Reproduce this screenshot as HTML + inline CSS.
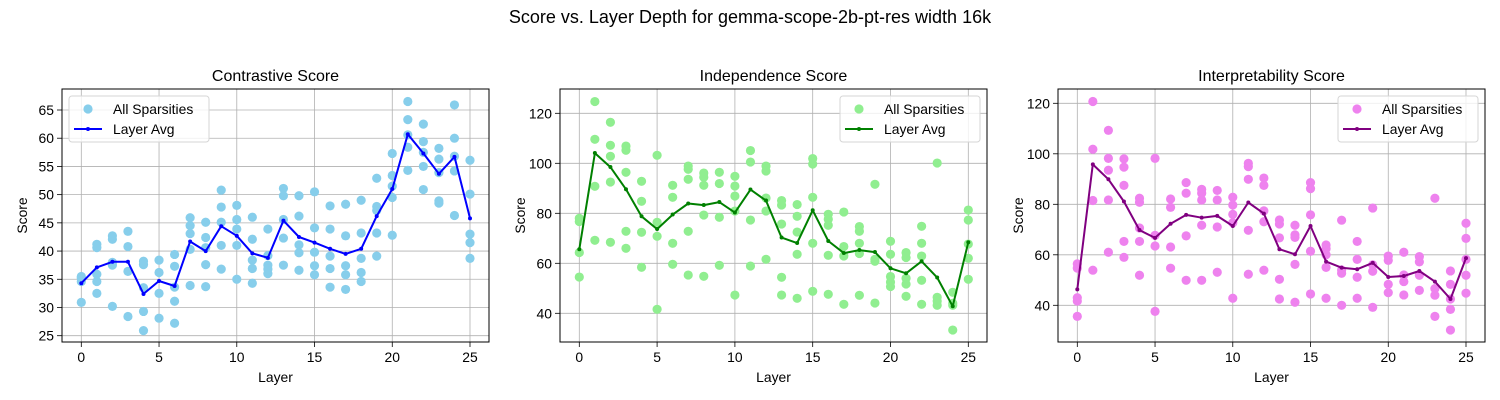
<!DOCTYPE html>
<html><head><meta charset="utf-8">
<style>
html,body{margin:0;padding:0;background:#fff;}
svg{display:block;font-family:"Liberation Sans","DejaVu Sans",sans-serif;}
</style></head>
<body>
<svg id="chart" width="1500" height="400" viewBox="0 0 1500 400" xmlns="http://www.w3.org/2000/svg">
<text x="750" y="23" text-anchor="middle" font-size="18">Score vs. Layer Depth for gemma-scope-2b-pt-res width 16k</text>
</svg>
<script>
const layers = [0,1,2,3,4,5,6,7,8,9,10,11,12,13,14,15,16,17,18,19,20,21,22,23,24,25];
const contrastivePoints = [
 [35.5,34.6,30.9,35.2],[41.2,40.6,35.9,34.6,32.5],[42.7,42.1,38.0,37.5,30.2],[43.5,40.8,36.4,28.4],
 [38.2,37.6,33.5,29.3,25.9],[38.4,36.2,32.5,28.1],[39.4,37.3,33.6,31.1,27.2],[45.9,44.5,43.1,40.3,33.9],
 [45.1,42.4,40.6,37.6,33.7],[50.8,47.8,45.1,41.0,36.8],[48.1,45.6,43.9,41.0,35.0],[46.0,42.1,38.4,36.9,34.3],
 [43.9,39.2,37.5,36.8,36.0],[51.1,49.8,45.6,42.3,37.5],[49.8,46.2,41.1,39.7,36.6],[50.5,44.1,39.8,37.4,35.8],
 [48.0,43.9,39.1,36.9,33.6],[48.3,42.7,37.4,35.8,33.2],[49.0,43.2,38.7,36.2,34.6],[52.9,47.9,47.2,43.2,39.1],
 [57.3,53.4,51.5,49.5,42.8],[66.5,63.3,60.6,58.4,54.3],[62.5,59.4,57.5,55.0,50.9],[58.2,56.3,53.9,48.9,48.5],
 [65.9,60.0,56.8,54.2,46.3],[56.1,50.1,43.0,41.5,38.7]];
const contrastiveAvg = [34.3,37.1,38.1,38.1,32.4,34.7,33.8,41.7,40.0,44.4,42.7,39.6,38.8,45.4,42.5,41.5,40.4,39.5,40.4,46.2,51.0,60.7,57.3,53.7,56.7,45.8];
const independencePoints = [
 [78,76.7,64.3,54.5],[124.7,109.6,90.8,69.2],[116.4,107.2,102.8,92.5,68.4],[106.9,105.2,96.4,72.8,66],
 [92.8,84.8,72.4,58.4],[103.2,76.4,70.8,41.6],[91.2,86.4,68,59.6],[98.9,97.6,93.6,72.8,55.3],
 [96.1,94.4,91.2,79.3,54.8],[96.4,91.9,78.4,59.2],[94.8,90.9,86.9,80.9,47.3],[105.1,100.5,77.3,58.9],
 [98.9,96.9,86.1,80.9,61.6],[85.1,83.3,75.7,54.4,47.3],[83.5,78.8,72.5,63.6,46],[101.9,99.7,86.4,68,48.8],
 [79.6,77.6,75.2,63.2,47.6],[80.5,66.7,62.9,43.6],[74.7,72.8,68,63.9,47.2],[91.6,61.6,60.8,44.1],
 [68.8,63.6,54.7,52.5,50.7],[64.3,62.3,54,51.7,46.8],[74.8,68,62.9,53.2,43.6],[100.1,46.4,44.9,43.2],
 [48.4,44,43.2,33.3],[81.3,77.3,67.7,62,53.6]];
const independenceAvg = [65.6,104.1,98.5,89.6,78.8,73.7,79.5,83.9,83.3,84.5,80.3,89.5,85.1,70.3,68.1,81.2,68.9,64.1,65.3,64.5,58,56,60.8,54.3,42.8,68.4];
const interpretabilityPoints = [
 [56.4,54.7,43,41.7,35.6],[120.7,101.8,81.5,53.9],[109.3,98.2,93.5,81.7,61],[98,94.7,87.5,65.3,59],
 [82.4,80.8,70.6,65.3,51.9],[98.2,67.7,63.5,37.6],[82.1,78.8,63.1,54.7],[88.6,84.4,67.5,49.9],
 [85.9,84.4,81.7,71.7,49.9],[85.5,81.7,71,53.1],[82.8,79.7,76,72.7,42.8],[96.2,94.9,89.9,69.7,52.3],
 [90.4,87.5,77.4,73.1,53.9],[73.8,72.2,66.7,50.3,42.5],[71.7,67.9,66.9,56.2,41.2],[88.6,86.2,75.8,61.4,44.5],
 [63.9,62.4,60,55,42.8],[73.7,54,52.7,40],[65.3,58.2,51.1,42.8],[78.5,56,53.5,39.2],
 [59.5,57.8,48.3,45],[61,52,49.4,44.1],[59.3,57.2,51.9,45.9],[82.4,46.6,44,35.6],
 [53.6,48.3,42.5,38.4,30.2],[72.5,66.5,58.2,51.9,44.8]];
const interpretabilityAvg = [46.3,95.8,89.9,81.1,69.8,66.7,72.3,75.8,74.7,75.4,71.4,80.7,76.3,62.2,60.2,71.4,57.3,54.9,54.3,56.8,51.2,51.6,53.6,49.4,42.5,58.7];
const contrastiveTicks = [25,30,35,40,45,50,55,60,65];
const independenceTicks = [40,60,80,100,120];
const interpretabilityTicks = [40,60,80,100,120];
const xTicks = [0,5,10,15,20,25];

const NS = "http://www.w3.org/2000/svg";
const svg = document.getElementById('chart');
function mk(tag, attrs, parent){
  const e = document.createElementNS(NS, tag);
  for (const k in attrs) e.setAttribute(k, attrs[k]);
  (parent||svg).appendChild(e);
  return e;
}
function panel(cfg){
  const g = mk('g', {});
  
  
  const L=cfg.left, R=cfg.left+427, T=89, B=342;
  const xs = v => cfg.x0 + (v)*(cfg.x25-cfg.x0)/25;
  const ys = v => cfg.yA + (v-cfg.vA)*(cfg.yB-cfg.yA)/(cfg.vB-cfg.vA);
  // grid
  xTicks.forEach(t=>{
    const l = mk('line',{x1:xs(t),x2:xs(t),y1:T,y2:B,stroke:'#b0b0b0','stroke-width':0.8},g);
    
    
    const tk = mk('line',{x1:xs(t),x2:xs(t),y1:B,y2:B+5,stroke:'#000','stroke-width':0.8},g);
    
    
    const tx = mk('text',{x:xs(t),y:B+20,'text-anchor':'middle','font-size':13.9,fill:'#000'},g);
    
    
    tx.textContent = t;
  });
  cfg.ticks.forEach(t=>{
    const l = mk('line',{x1:L,x2:R,y1:ys(t),y2:ys(t),stroke:'#b0b0b0','stroke-width':0.8},g);
    
    
    const tk = mk('line',{x1:L-5,x2:L,y1:ys(t),y2:ys(t),stroke:'#000','stroke-width':0.8},g);
    
    
    const tx = mk('text',{x:L-8,y:ys(t)+5,'text-anchor':'end','font-size':13.9,fill:'#000'},g);
    
    
    tx.textContent = t;
  });
  // scatter
  cfg.points.forEach((arr,i)=>{
    arr.forEach(v=>{
      const c = mk('circle',{cx:xs(layers[i]),cy:ys(v),r:4.6,fill:cfg.scol},g);
      
      
    });
  });
  // avg line
  const d = cfg.avg.map((v,i)=>(i?'L':'M')+xs(layers[i]).toFixed(1)+' '+ys(v).toFixed(1)).join(' ');
  const p = mk('path',{d:d,fill:'none',stroke:cfg.lcol,'stroke-width':2,'stroke-linejoin':'round'},g);
  
  
  cfg.avg.forEach((v,i)=>{
    const c = mk('circle',{cx:xs(layers[i]),cy:ys(v),r:2,fill:cfg.lcol},g);
    
    
  });
  // frame
  const fr = mk('rect',{x:L,y:T,width:R-L,height:B-T,fill:'none',stroke:'#000','stroke-width':1},g);
  
  
  // title & labels
  const tt = mk('text',{x:(L+R)/2,y:T-8,'text-anchor':'middle','font-size':16,fill:'#000'},g);
  
  
  tt.textContent = cfg.title;
  const xl = mk('text',{x:(L+R)/2,y:382,'text-anchor':'middle','font-size':13.9,fill:'#000'},g);
  
  
  xl.textContent = 'Layer';
  const yl = mk('text',{x:0,y:0,'text-anchor':'middle','font-size':13.9,fill:'#000',transform:`translate(${L-35},${(T+B)/2}) rotate(-90)`},g);
  
  
  yl.textContent = 'Score';
  // legend
  const lg = mk('g',{},g);
  
  
  const lx = cfg.legendX;
  const lb = mk('rect',{x:lx,y:96,width:140,height:46,rx:3,fill:'#fff','fill-opacity':0.8,stroke:'#d6d6d6','stroke-width':1},lg);
  
  
  const lc = mk('circle',{cx:lx+19,cy:109,r:4.6,fill:cfg.scol},lg);
  
  
  const t1 = mk('text',{x:lx+44,y:114,'font-size':13.9,fill:'#000'},lg);
  
  
  t1.textContent = 'All Sparsities';
  const ll = mk('line',{x1:lx+5,x2:lx+33,y1:129,y2:129,stroke:cfg.lcol,'stroke-width':2},lg);
  
  
  const ld = mk('circle',{cx:lx+19,cy:129,r:2,fill:cfg.lcol},lg);
  
  
  const t2 = mk('text',{x:lx+44,y:134,'font-size':13.9,fill:'#000'},lg);
  
  
  t2.textContent = 'Layer Avg';
}
panel({name:'contrastive',title:'Contrastive Score',left:62,x0:81.3,x25:470,yA:110,vA:65,yB:335.7,vB:25,
  ticks:contrastiveTicks,points:contrastivePoints,avg:contrastiveAvg,scol:'#87ceeb',lcol:'#0000ff',legendX:69});
panel({name:'independence',title:'Independence Score',left:560,x0:579.3,x25:968.3,yA:113.3,vA:120,yB:313.3,vB:40,
  ticks:independenceTicks,points:independencePoints,avg:independenceAvg,scol:'#90ee90',lcol:'#008000',legendX:840});
panel({name:'interpretability',title:'Interpretability Score',left:1058,x0:1077.3,x25:1466,yA:103.3,vA:120,yB:305.3,vB:40,
  ticks:interpretabilityTicks,points:interpretabilityPoints,avg:interpretabilityAvg,scol:'#ee82ee',lcol:'#800080',legendX:1338});
</script>
</body></html>
